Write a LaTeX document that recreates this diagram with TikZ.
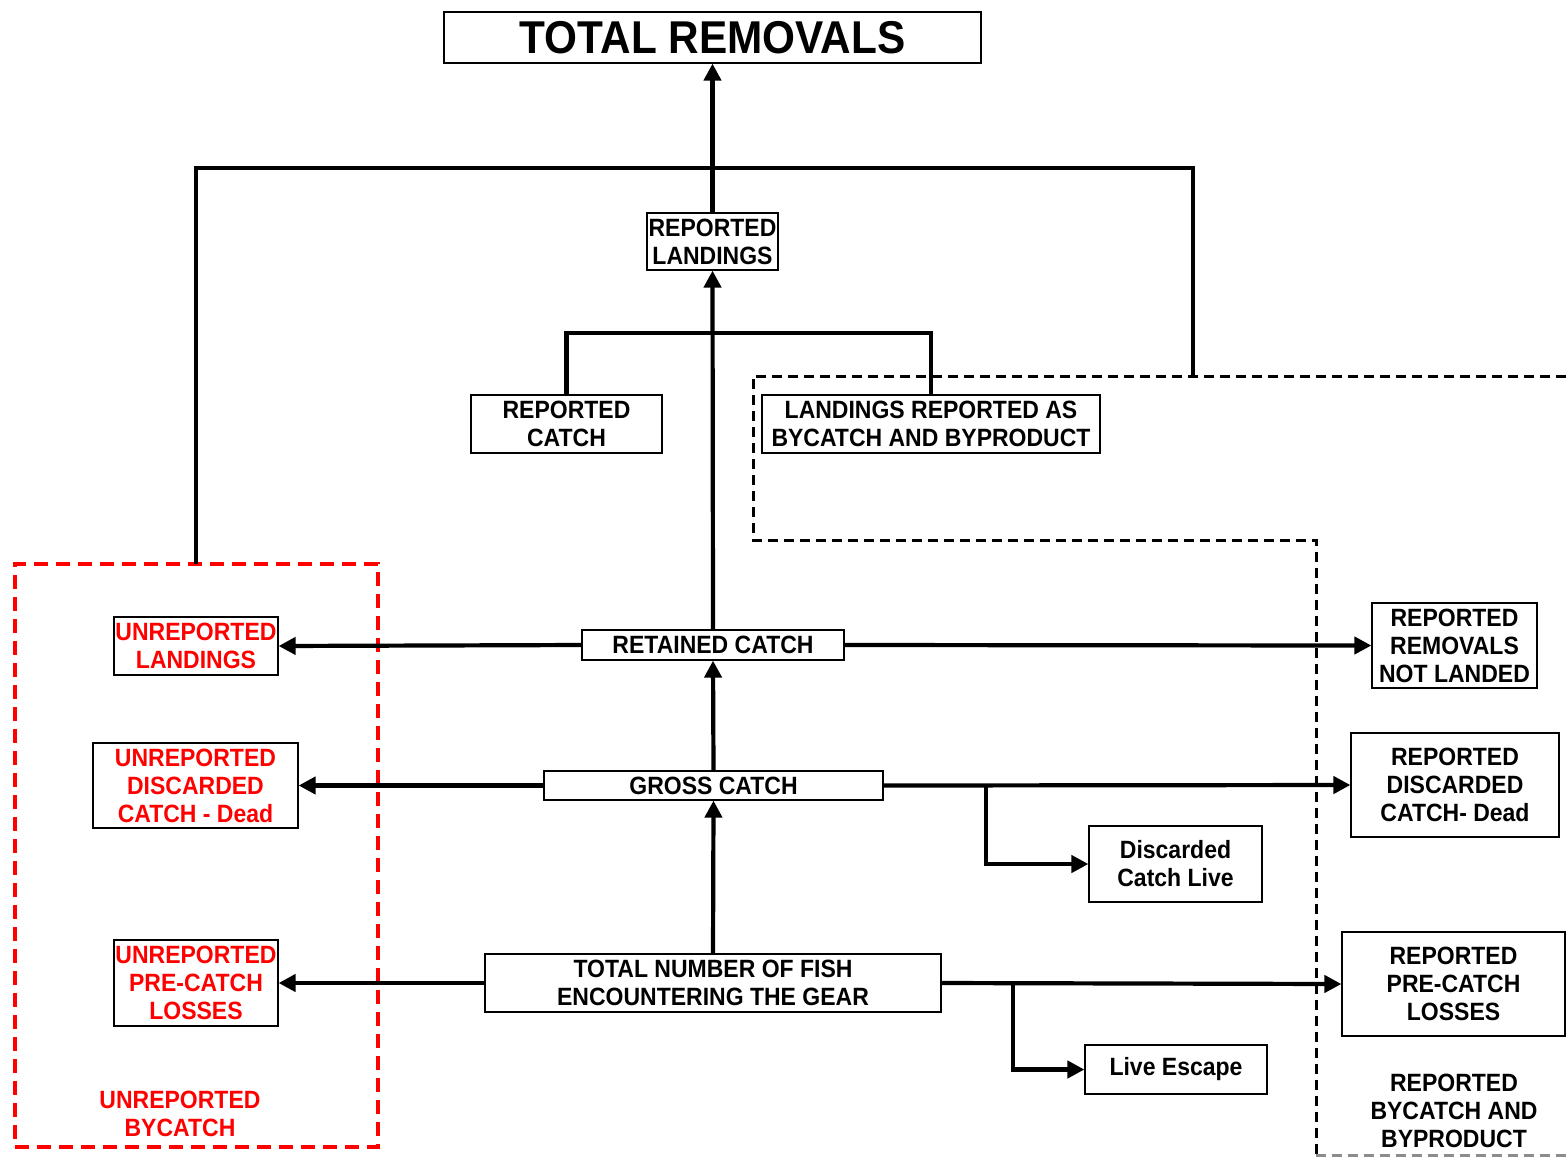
\documentclass[tikz,border=0pt]{standalone}
\usepackage{fontspec}
\setmainfont{Liberation Sans}[FakeStretch=0.92]
\usetikzlibrary{arrows.meta}
\definecolor{redtxt}{RGB}{255,0,0}
\tikzset{
  box/.style={draw, line width=0.6pt, inner sep=0pt, align=center, font=\fontsize{12.5}{14}\selectfont\bfseries},
  redbox/.style={box, text=redtxt},
  conn/.style={line width=2.1pt},
  arr/.style={conn, -{Triangle[length=8.5pt,width=8.5pt]}},
  bdash/.style={line width=1.5pt, dash pattern=on 5pt off 3pt},
  rdash/.style={line width=2.2pt, draw=redtxt, dash pattern=on 7pt off 4pt},
}
\begin{document}
\begin{tikzpicture}[x=0.5pt,y=-0.5pt]
\useasboundingbox (0,0) rectangle (1566,1157);
% dashed regions
\node[rdash, draw, minimum width=181.5pt, minimum height=291.5pt, inner sep=0pt] (ubbox) at (196.5,855.5) {};
\coordinate (dA) at (753,540);
\coordinate (dB) at (753,376);
\coordinate (dC) at (1566,376);
\coordinate (dD) at (1316,540);
\coordinate (dE) at (1316,1155);
\coordinate (dF) at (1566,1155);
\draw[bdash] (dC) -- (dB) -- (dA) -- (dD) -- (dE);
\draw[bdash, draw=black!45] (dE) -- (dF);

% nodes
\node[box, minimum width=268.5pt, minimum height=25.5pt, font=\fontsize{23}{26}\selectfont\bfseries] (tr) at (712.5,37.5) {TOTAL REMOVALS};
\node[box, minimum width=65.5pt, minimum height=28.5pt] (rl) at (712.5,241.5) {REPORTED\\LANDINGS};
\node[box, minimum width=95.5pt, minimum height=29pt] (rc) at (566.5,424) {REPORTED\\CATCH};
\node[box, minimum width=169pt, minimum height=29pt] (lrb) at (931,424) {LANDINGS REPORTED AS\\BYCATCH AND BYPRODUCT};
\node[redbox, minimum width=82pt, minimum height=29pt] (ul) at (196,646) {UNREPORTED\\LANDINGS};
\node[redbox, minimum width=102.5pt, minimum height=42.5pt] (ud) at (195.5,785.5) {UNREPORTED\\DISCARDED\\CATCH - Dead};
\node[redbox, minimum width=82pt, minimum height=43pt] (up) at (196,983) {UNREPORTED\\PRE-CATCH\\LOSSES};
\node[box, minimum width=131pt, minimum height=15pt] (ret) at (713,645) {RETAINED CATCH};
\node[box, minimum width=169.5pt, minimum height=14.5pt] (gross) at (713.5,785.5) {GROSS CATCH};
\node[box, minimum width=228pt, minimum height=29pt] (tot) at (713,983) {TOTAL NUMBER OF FISH\\ENCOUNTERING THE GEAR};
\node[box, minimum width=82.5pt, minimum height=42.5pt] (rrnl) at (1454.5,645.5) {REPORTED\\REMOVALS\\NOT LANDED};
\node[box, minimum width=104pt, minimum height=52pt] (rdc) at (1455,785) {REPORTED\\DISCARDED\\CATCH- Dead};
\node[box, minimum width=86.5pt, minimum height=38pt] (dcl) at (1175.5,864) {Discarded\\Catch Live};
\node[box, minimum width=111.5pt, minimum height=52pt] (rpcl) at (1453.5,984) {REPORTED\\PRE-CATCH\\LOSSES};
\node[box, minimum width=91pt, minimum height=24.5pt] (le) at (1176,1069.5) {Live Escape};
\node[font=\fontsize{12.5}{14}\selectfont\bfseries, text=redtxt, align=center] (ub) at (180,1114) {UNREPORTED\\BYCATCH};
\node[font=\fontsize{12.5}{14}\selectfont\bfseries, align=center] (rbb) at (1454,1111) {REPORTED\\BYCATCH AND\\BYPRODUCT};

% connectors
\coordinate (top) at (0,168);
\coordinate (bk) at (0,333);
\coordinate (lp) at (196,564);
\coordinate (rp) at (1193,376);
\draw[arr] (rl.north) -- (tr.south);
\draw[conn] (lp) -- (lp |- top) -- (rp |- top) -- (rp);
\draw[arr] (ret.north) -- (rl.south);
\draw[conn] (rc.north) -- (rc.north |- bk) -- (lrb.north |- bk) -- (lrb.north);
\draw[arr] (ret.west) -- (ul.east);
\draw[arr] (ret.east) -- (rrnl.west);
\draw[arr] (gross.north) -- (ret.south);
\draw[arr] (gross.west) -- (ud.east);
\draw[arr] (gross.east) -- (rdc.west);
\coordinate (g1) at (986,785);
\draw[arr] (g1 |- gross.east) -- (g1 |- dcl.west) -- (dcl.west);
\draw[arr] (tot.north) -- (gross.south);
\draw[arr] (tot.west) -- (up.east);
\draw[arr] (tot.east) -- (rpcl.west);
\coordinate (t1) at (1013,983);
\draw[arr] (t1 |- tot.east) -- (t1 |- le.west) -- (le.west);
\end{tikzpicture}
\end{document}
